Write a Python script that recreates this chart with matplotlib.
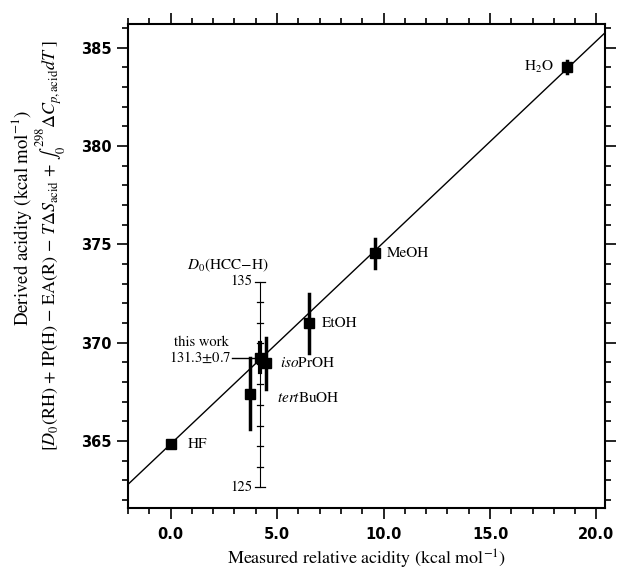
import numpy as np
import matplotlib
matplotlib.use("Agg")
import matplotlib.pyplot as plt

plt.rcParams["mathtext.fontset"] = "stix"
plt.rcParams["font.family"] = "STIXGeneral"

# measured relative acidity vs derived acidity
names = ["HF", "tertBuOH", "this work", "isoPrOH", "EtOH", "MeOH", "H2O"]
x_meas = [0.0, 3.75, 4.2, 4.5, 6.5, 9.6, 18.6]
y_deriv = [364.85, 367.4, 369.2, 368.95, 371.0, 374.55, 384.0]
y_err = [0.0, 1.8, 0.0, 1.3, 1.5, 0.75, 0.3]

# fitted line
fit_slope = 1.025
fit_icpt = 364.85

# inner D0(HCC-H) scale: (value, main-axis y)
inner_x = 4.2
inner_vals = [125, 135]
inner_y = [362.66, 373.1]
this_work = 131.3
this_work_err = 0.7

fig = plt.figure(figsize=(6.19, 5.74), dpi=100)
ax = fig.add_axes([0.2068, 0.115, 0.7706, 0.843])

# inner scale
def inner_to_main(v):
    return inner_y[0] + (v - inner_vals[0]) * (inner_y[1] - inner_y[0]) / (inner_vals[1] - inner_vals[0])

ax.plot([inner_x, inner_x], inner_y, color="black", lw=0.8, zorder=2)
for v in range(inner_vals[0], inner_vals[1] + 1):
    w = 0.22 if v in inner_vals else 0.12
    ax.plot([inner_x - w, inner_x + w], [inner_to_main(v)] * 2, color="black", lw=0.9)
ax.text(inner_x - 0.35, inner_to_main(135), "135", ha="right", va="center", fontsize=10.5)
ax.text(inner_x - 0.35, inner_to_main(125), "125", ha="right", va="center", fontsize=10.5)
ax.text(inner_x - 1.5, inner_to_main(135) + 0.85, r"$D_0$(HCC$-$H)", ha="center", va="center", fontsize=11)

yw = inner_to_main(this_work)
ax.plot([inner_x - 1.3, inner_x], [yw, yw], color="black", lw=1.0)
ax.plot([inner_x, inner_x], [inner_to_main(this_work - this_work_err), inner_to_main(this_work + this_work_err)],
        color="black", lw=3)
ax.text(inner_x - 1.35, yw, r"131.3$\pm$0.7", ha="right", va="center", fontsize=10.5)
ax.text(inner_x - 2.75, yw + 0.78, "this work", ha="center", va="center", fontsize=10.5)

# fit line
xl = np.array([-2.0, 20.4])
ax.plot(xl, fit_slope * xl + fit_icpt, color="black", lw=1.0)

# points
for i, n in enumerate(names):
    if y_err[i] > 0:
        ax.plot([x_meas[i]] * 2, [y_deriv[i] - y_err[i], y_deriv[i] + y_err[i]], color="black", lw=2.5, zorder=3)
    ax.plot(x_meas[i], y_deriv[i], "s", color="black", ms=7, zorder=4)

lab = {
    "HF": ("HF", 0.8, 0.0, "left"),
    "tertBuOH": (r"$\it{tert}$BuOH", 1.25, -0.2, "left"),
    "isoPrOH": (r"$\it{iso}$PrOH", 0.65, 0.0, "left"),
    "EtOH": ("EtOH", 0.6, 0.0, "left"),
    "MeOH": ("MeOH", 0.55, 0.0, "left"),
    "H2O": (r"H$_2$O", -0.6, 0.0, "right"),
}
for i, n in enumerate(names):
    if n in lab:
        t, dx, dy, ha = lab[n]
        ax.text(x_meas[i] + dx, y_deriv[i] + dy, t, ha=ha, va="center", fontsize=11)

ax.set_xlim(-2.0, 20.4)
ax.set_ylim(361.6, 386.2)
ax.set_xticks([0, 5, 10, 15, 20])
ax.set_xticklabels(["0.0", "5.0", "10.0", "15.0", "20.0"])
ax.set_xticks(np.arange(-2, 21, 1), minor=True)
ax.set_yticks([365, 370, 375, 380, 385])
ax.set_yticks(np.arange(362, 387, 1), minor=True)
for lbl in ax.get_xticklabels() + ax.get_yticklabels():
    lbl.set_fontfamily("DejaVu Sans")
    lbl.set_fontweight("bold")
    lbl.set_fontsize(10.5)
ax.tick_params(which="both", direction="out", top=True, right=True, width=1.2)
ax.tick_params(which="major", length=8)
ax.tick_params(axis="x", which="major", pad=6)
ax.tick_params(axis="y", which="major", pad=4)
ax.tick_params(which="minor", length=4)
for s in ax.spines.values():
    s.set_linewidth(1.5)

ax.set_xlabel(r"Measured relative acidity (kcal mol$^{-1}$)", fontsize=13, labelpad=4)
fig.text(22 / 619, 1 - 218 / 574, "Derived acidity (kcal mol$^{-1}$)",
         rotation=90, ha="center", va="center", fontsize=13.5)
fig.text(51 / 619, 1 - 245 / 574,
         r"[$D_0$(RH) + IP(H) $-$ EA(R) $-$ $T\Delta S_{\rm acid}$ + $\int_0^{298}\Delta C_{p,\rm acid}dT$ ]",
         rotation=90, ha="center", va="center", fontsize=13)

fig.savefig("out.png", dpi=100)
